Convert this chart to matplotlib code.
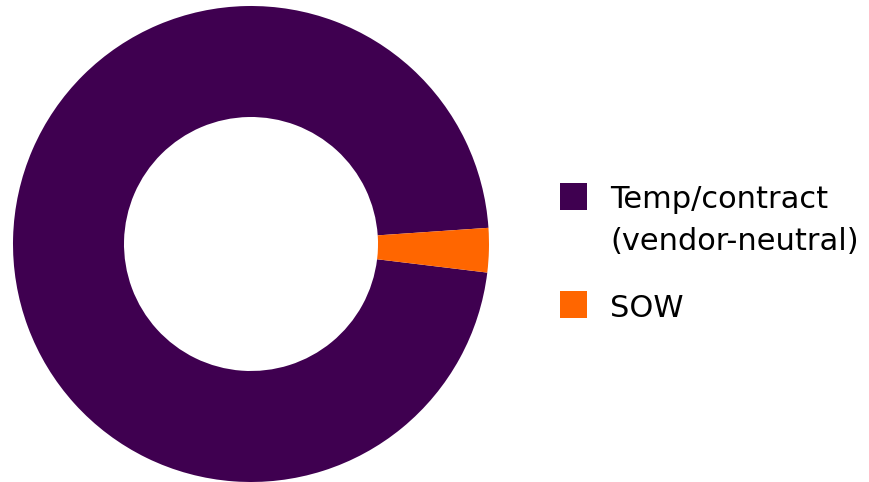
import matplotlib.pyplot as plt
from matplotlib.patches import Rectangle

labels = [["Temp/contract", "(vendor-neutral)"], ["SOW"]]
shares = [97, 3]
colors = ["#3f0050", "#ff6600"]

W, H = 870, 482
fig = plt.figure(figsize=(W / 100, H / 100), dpi=100)

# donut: centre (251, 244) px, outer radius 238 px
cx, cy, r = 251, 244, 238
ax = fig.add_axes([(cx - r) / W, (H - cy - r) / H, 2 * r / W, 2 * r / H])
ax.pie(shares, colors=colors, startangle=3.9, counterclock=True,
       radius=1, wedgeprops=dict(width=111 / 238, linewidth=0))
ax.set_xlim(-1, 1)
ax.set_ylim(-1, 1)
ax.set_aspect("equal")
ax.axis("off")

# legend drawn by hand so the square lines up with the first text line
sq = 27
entries = [(183, 208), (291, 317)]  # (square top, first baseline) in px
for (top, base), lines, col in zip(entries, labels, colors):
    fig.add_artist(Rectangle((560 / W, (H - top - sq) / H), sq / W, sq / H,
                             transform=fig.transFigure, facecolor=col,
                             edgecolor="none"))
    for i, line in enumerate(lines):
        fig.text(610 / W, (H - base - 42 * i) / H, line, fontsize=22,
                 family="DejaVu Sans", va="baseline", ha="left", color="black")

fig.savefig("out.png", dpi=100)
